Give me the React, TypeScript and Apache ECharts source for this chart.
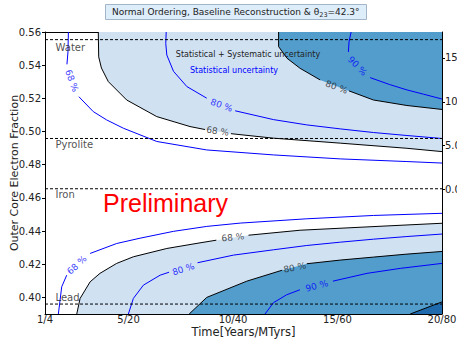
import React, { useEffect, useRef } from 'react';
import * as echarts from 'echarts';

// ---------- axes ----------
const X_MIN = 1;
const X_MAX = 20;
const Y_MIN = 0.39;
const Y_MAX = 0.56;
const xTickValues = [1, 5, 10, 15, 20];
const xTickLabels = ['1/4', '5/20', '10/40', '15/60', '20/80'];
const yTickValues = [0.4, 0.42, 0.44, 0.46, 0.48, 0.5, 0.52, 0.54, 0.56];
const RIGHT_MIN = -14.19;
const RIGHT_MAX = 17.95;
const rightTickValues = [0, 5, 10, 15];

// ---------- composition reference lines ----------
const compositionNames = ['Water', 'Pyrolite', 'Iron', 'Lead'];
const compositionValues = [0.5554, 0.4958, 0.4655, 0.396];

// ---------- Statistical + Systematic contours (black, filled) ----------
// null marks the gap where the inline label sits
const systUpper68 = [[3.55, 0.56], [3.57, 0.545], [3.7, 0.5383], [4.03, 0.5301], [4.91, 0.519], [6.35, 0.509], [7.94, 0.503], [8.66, 0.5012], null, [9.9, 0.4987], [11.93, 0.496], [15.13, 0.493], [18.32, 0.4899], [20, 0.4879]];
const systUpper80 = [[12.18, 0.56], [12.18, 0.5512], [12.58, 0.5442], [13.21, 0.5381], [14.17, 0.5311], null, [15.55, 0.5245], [16.72, 0.519], [18.32, 0.5157], [20, 0.5133]];
const systLower68 = [[2.52, 0.39], [2.68, 0.3994], [3.16, 0.4094], [3.63, 0.4145], [4.43, 0.4205], [5.23, 0.4245], [6.83, 0.4295], [8.42, 0.4329], [9.2, 0.4345], null, [10.74, 0.4375], [13.21, 0.4405], [16.41, 0.4425], [20, 0.4447]];
const systLower80 = [[7.9, 0.39], [8.74, 0.4], [10.66, 0.4098], [12.35, 0.4164], null, [13.53, 0.4203], [15.13, 0.4225], [16.72, 0.4243], [18.32, 0.4261], [20, 0.4277]];
const systLower90 = [[18.48, 0.39], [20, 0.3973]];

// ---------- Statistical-only contours (blue lines) ----------
const statUpper68 = [[2.12, 0.56], [2.1, 0.548], [2.05, 0.5405], null, [2.62, 0.521], [3.31, 0.512], [3.95, 0.507], [4.75, 0.502], [6.35, 0.494], [8.74, 0.4889], [11.93, 0.4859], [15.13, 0.4835], [18.32, 0.4819], [20, 0.481]];
const statUpper80 = [[6.8, 0.56], [6.78, 0.553], [6.83, 0.5461], [7.15, 0.5363], [7.79, 0.5271], [8.74, 0.5201], null, [10.1, 0.5125], [11.93, 0.5072], [13.53, 0.504], [15.13, 0.5016], [16.72, 0.4994], [18.32, 0.4976], [20, 0.4958]];
const statUpper90 = [[15.65, 0.56], [15.55, 0.554], [15.52, 0.548], null, [16.56, 0.5325], [17.5, 0.5283], [18.32, 0.5251], [19.12, 0.5225], [20, 0.5196]];
const statLower68 = [[1.64, 0.39], [1.8, 0.4064], [2.04, 0.4134], null, [3.16, 0.4265], [4.43, 0.4325], [5.55, 0.4357], [7.14, 0.4398], [8.74, 0.4428], [10.34, 0.4448], [13.53, 0.4474], [16.72, 0.4494], [20, 0.4507]];
const statLower80 = [[4.99, 0.39], [5.23, 0.3994], [5.71, 0.4074], [6.51, 0.4134], [6.94, 0.4152], null, [8.3, 0.4209], [10.02, 0.4255], [11.93, 0.4287], [13.53, 0.4313], [15.13, 0.4333], [16.72, 0.4351], [18.32, 0.4367], [20, 0.4382]];
const statLower90 = [[11.53, 0.39], [11.93, 0.3968], [12.57, 0.4016], [13.2, 0.4046], null, [14.78, 0.4098], [16.41, 0.4145], [18.0, 0.4175], [20, 0.4205]];

// ---------- inline contour labels ----------
const statLabelPoints = [[2.28, 0.5306], [9.45, 0.5158], [15.95, 0.5395], [2.52, 0.4195], [7.62, 0.417], [14.01, 0.4069]];
const statLabelTexts = ['68 %', '80 %', '90 %', '68 %', '80 %', '90 %'];
const systLabelPoints = [[9.26, 0.5002], [14.95, 0.5268], [9.99, 0.4362], [12.95, 0.418]];
const systLabelTexts = ['68 %', '80 %', '68 %', '80 %'];

// ---------- styles ----------
const FONT = 'DejaVu Sans';
const TEXT = '#222';
const STAT_BLUE = '#0000ff';
const FILL_LIGHT = '#d0e1f2';
const FILL_MED = '#529dcc';
const FILL_DARK = '#1f69ad';
const statLabelRot = [-70, -20, -45, 43, 18, 15];
const systLabelRot = [-8, -20, 6, 12];
const compositionLabelOffsets = [8.3, 6.3, 6, -6.8];

function clean(arr: any[]) {
  return arr.filter((p) => p !== null);
}
function segments(arr: any[]) {
  const out: any[] = [];
  let cur: any[] = [];
  arr.forEach((p) => {
    if (p === null) {
      if (cur.length) out.push(cur);
      cur = [];
    } else cur.push(p);
  });
  if (cur.length) out.push(cur);
  return out;
}

const regions = [
  { poly: [...clean(systUpper68), [X_MAX, Y_MAX]], color: FILL_LIGHT },
  { poly: [...clean(systUpper80), [X_MAX, Y_MAX]], color: FILL_MED },
  { poly: [...clean(systLower68), [X_MAX, Y_MIN]], color: FILL_LIGHT },
  { poly: [...clean(systLower80), [X_MAX, Y_MIN]], color: FILL_MED },
  { poly: [...clean(systLower90), [X_MAX, Y_MIN]], color: FILL_DARK },
];

function lineSeries(arr: any[], color: string, z: number) {
  return segments(arr).map((seg) => ({
    type: 'line',
    data: seg,
    symbol: 'none',
    showSymbol: false,
    silent: true,
    z,
    lineStyle: { color, width: 1 },
    xAxisIndex: 0,
    yAxisIndex: 0,
  }));
}

function buildOption() {
  const series: any[] = [];
  series.push({
    type: 'custom',
    coordinateSystem: 'cartesian2d',
    xAxisIndex: 0,
    yAxisIndex: 0,
    silent: true,
    z: 1,
    data: regions.map((r) => r.poly[0]),
    renderItem: (params: any, api: any) => {
      const r = regions[params.dataIndex];
      return {
        type: 'polygon',
        shape: { points: r.poly.map((p: number[]) => api.coord(p)) },
        style: { fill: r.color, stroke: null },
      };
    },
  });
  compositionValues.forEach((v) => {
    series.push({
      type: 'line',
      data: [[X_MIN, v], [X_MAX, v]],
      symbol: 'none',
      silent: true,
      z: 4,
      lineStyle: { color: '#000', width: 1, type: [3, 2] },
    });
  });
  [systUpper68, systUpper80, systLower68, systLower80, systLower90].forEach((a) =>
    series.push(...lineSeries(a, '#000', 3))
  );
  [statUpper68, statUpper80, statUpper90, statLower68, statLower80, statLower90].forEach((a) =>
    series.push(...lineSeries(a, STAT_BLUE, 3))
  );
  series.push({
    type: 'scatter',
    symbolSize: 1,
    itemStyle: { color: 'rgba(0,0,0,0)' },
    silent: true,
    z: 6,
    data: statLabelPoints.map((p, i) => ({ value: p, name: statLabelTexts[i], label: { rotate: statLabelRot[i] } })),
    label: { show: true, position: 'inside', formatter: '{b}', color: STAT_BLUE, fontSize: 9, fontFamily: FONT },
  });
  series.push({
    type: 'scatter',
    symbolSize: 1,
    itemStyle: { color: 'rgba(0,0,0,0)' },
    silent: true,
    z: 6,
    data: systLabelPoints.map((p, i) => ({ value: p, name: systLabelTexts[i], label: { rotate: systLabelRot[i] } })),
    label: { show: true, position: 'inside', formatter: '{b}', color: TEXT, fontSize: 9, fontFamily: FONT },
  });
  series.push({
    type: 'scatter',
    symbolSize: 1,
    itemStyle: { color: 'rgba(0,0,0,0)' },
    silent: true,
    z: 6,
    data: compositionValues.map((v, i) => ({
      value: [X_MIN, v],
      name: compositionNames[i],
      label: { offset: [0, compositionLabelOffsets[i]] },
    })),
    label: { show: true, position: 'right', distance: 10, formatter: '{b}', color: TEXT, fontSize: 10, fontFamily: FONT },
  });

  return {
    animation: false,
    title: {
      text: 'Normal Ordering, Baseline Reconstruction & θ{s|23}=42.3°',
      left: 105,
      top: 4,
      padding: [2, 7],
      backgroundColor: '#deedfa',
      borderColor: '#a3b6c9',
      borderWidth: 1,
      textStyle: {
        fontSize: 9,
        fontFamily: FONT,
        color: TEXT,
        fontWeight: 'normal',
        lineHeight: 12,
        rich: { s: { fontSize: 6.5, fontFamily: FONT, color: TEXT, verticalAlign: 'bottom', lineHeight: 12 } },
      },
    },
    grid: { left: 45, top: 32, width: 397, height: 282, containLabel: false, outerBoundsMode: 'none' },
    xAxis: [
      {
        type: 'value',
        min: X_MIN,
        max: X_MAX,
        position: 'bottom',
        axisLine: { show: true, onZero: false, lineStyle: { color: '#000', width: 1 } },
        axisTick: { show: true, inside: true, length: 4, customValues: xTickValues, lineStyle: { color: '#000' } },
        axisLabel: {
          customValues: xTickValues,
          formatter: (v: number) => xTickLabels[xTickValues.indexOf(v)] ?? '',
          fontSize: 10,
          fontFamily: FONT,
          color: TEXT,
          margin: 0,
        },
        splitLine: { show: false },
        name: 'Time[Years/MTyrs]',
        nameLocation: 'middle',
        nameGap: 12,
        nameMoveOverlap: false,
        nameTextStyle: { fontSize: 11.5, fontFamily: FONT, color: TEXT },
      },
      {
        type: 'value',
        min: X_MIN,
        max: X_MAX,
        position: 'top',
        axisLine: { show: true, onZero: false, lineStyle: { color: '#000', width: 1 } },
        axisTick: { show: true, inside: true, length: 4, customValues: [5, 10, 15], lineStyle: { color: '#000' } },
        axisLabel: { show: false },
        splitLine: { show: false },
      },
    ],
    yAxis: [
      {
        type: 'value',
        min: Y_MIN,
        max: Y_MAX,
        position: 'left',
        axisLine: { show: true, onZero: false, lineStyle: { color: '#000', width: 1 } },
        axisTick: { show: true, inside: false, length: 3, customValues: yTickValues, lineStyle: { color: '#000' } },
        axisLabel: {
          customValues: yTickValues,
          formatter: (v: number) => v.toFixed(2),
          fontSize: 10,
          fontFamily: FONT,
          color: TEXT,
          margin: 4,
        },
        splitLine: { show: false },
        name: 'Outer Core Electron Fraction',
        nameLocation: 'middle',
        nameGap: 25,
        nameMoveOverlap: false,
        nameTextStyle: { fontSize: 11, fontFamily: FONT, color: TEXT },
      },
      {
        type: 'value',
        min: RIGHT_MIN,
        max: RIGHT_MAX,
        position: 'right',
        axisLine: { show: true, onZero: false, lineStyle: { color: '#000', width: 1 } },
        axisTick: { show: true, inside: false, length: 3, customValues: rightTickValues, lineStyle: { color: '#000' } },
        axisLabel: {
          customValues: rightTickValues,
          formatter: (v: number) => v.toFixed(1),
          fontSize: 10,
          fontFamily: FONT,
          color: TEXT,
          margin: 3,
        },
        splitLine: { show: false },
      },
    ],
    graphic: [
      {
        type: 'text',
        x: 248,
        y: 54,
        z: 10,
        style: { text: 'Statistical + Systematic uncertainty', fontSize: 8, fontFamily: FONT, fill: TEXT, align: 'center', verticalAlign: 'middle' },
      },
      {
        type: 'text',
        x: 234,
        y: 70.5,
        z: 10,
        style: { text: 'Statistical uncertainty', fontSize: 8, fontFamily: FONT, fill: STAT_BLUE, align: 'center', verticalAlign: 'middle' },
      },
      {
        type: 'text',
        x: 103,
        y: 203,
        z: 10,
        style: { text: 'Preliminary', fontSize: 25, fontFamily: 'Liberation Sans', fill: '#ff0000', align: 'left', verticalAlign: 'middle' },
      },
    ],
    series,
  };
}

export default function App() {
  const ref = useRef<HTMLDivElement>(null);
  useEffect(() => {
    document.body.style.margin = '0';
    const chart = echarts.init(ref.current!, null, { renderer: 'svg' });
    chart.setOption(buildOption() as any);
    return () => chart.dispose();
  }, []);
  return <div ref={ref} style={{ position: 'absolute', left: 0, top: 0, width: 457, height: 340 }} />;
}
